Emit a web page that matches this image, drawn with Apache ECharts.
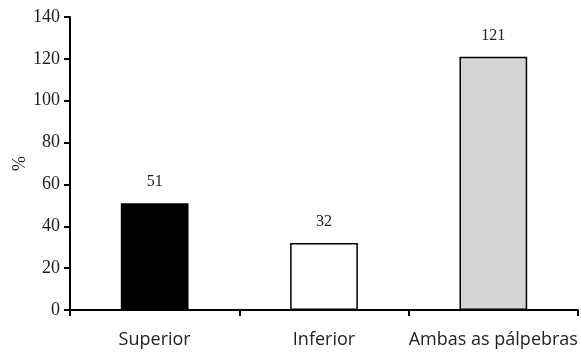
<!DOCTYPE html>
<html>
<head>
<meta charset="utf-8">
<script src="https://cdn.jsdelivr.net/npm/echarts@6/dist/echarts.min.js"></script>
<style>
  html, body { margin: 0; padding: 0; background: #fff; }
  #chart { width: 581px; height: 355px; }
</style>
</head>
<body>
<div id="chart"></div>
<script>
const categories = ["Superior", "Inferior", "Ambas as pálpebras"];
const values = [51, 32, 121];
const barColors = ["#000000", "#ffffff", "#d4d4d6"];
const yTicks = [0, 20, 40, 60, 80, 100, 120, 140];

const chart = echarts.init(document.getElementById("chart"));
chart.setOption({
  animation: false,
  grid: { left: 70, right: 3, top: 17, bottom: 45, outerBoundsMode: "none", containLabel: false },
  xAxis: {
    type: "category",
    data: categories,
    axisLine: { lineStyle: { color: "#000", width: 2 } },
    axisTick: { show: true, length: 6, lineStyle: { color: "#000", width: 2 } },
    axisLabel: {
      interval: 0,
      color: "#222",
      fontFamily: "Open Sans",
      fontSize: 18,
      margin: 21
    }
  },
  yAxis: {
    type: "value",
    min: yTicks[0],
    max: yTicks[yTicks.length - 1],
    interval: 20,
    name: "%",
    nameLocation: "middle",
    nameGap: 41,
    nameMoveOverlap: false,
    nameRotate: 90,
    nameTextStyle: { color: "#222", fontFamily: "Liberation Serif", fontSize: 18 },
    splitLine: { show: false },
    axisLine: { show: true, lineStyle: { color: "#000", width: 2 } },
    axisTick: { show: true, length: 6, lineStyle: { color: "#000", width: 2 } },
    axisLabel: {
      color: "#222",
      fontFamily: "Liberation Serif",
      fontSize: 18,
      margin: 10
    }
  },
  series: [{
    type: "bar",
    barWidth: "40%",
    data: values.map((v, i) => ({
      value: v,
      itemStyle: { color: barColors[i], borderColor: "#000", borderWidth: 1.5 }
    })),
    label: {
      show: true,
      position: "top",
      distance: 13,
      color: "#222",
      fontFamily: "Liberation Serif",
      fontSize: 16
    }
  }]
});
</script>
</body>
</html>
